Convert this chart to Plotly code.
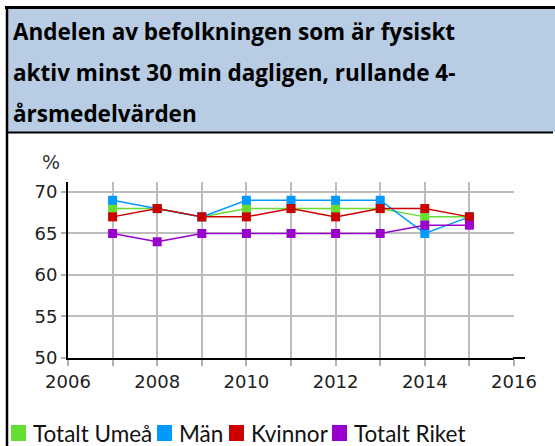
import plotly.graph_objects as go

years = [2007, 2008, 2009, 2010, 2011, 2012, 2013, 2014, 2015]
series_names = ["Totalt Umeå", "Män", "Kvinnor", "Totalt Riket"]
totalt_umea = [68, 68, 67, 68, 68, 68, 68, 67, 67]
man = [69, 68, 67, 69, 69, 69, 69, 65, 67]
kvinnor = [67, 68, 67, 67, 68, 67, 68, 68, 67]
totalt_riket = [65, 64, 65, 65, 65, 65, 65, 66, 66]
colors = ["#66dd33", "#0099ff", "#cc0000", "#9900cc"]
title_lines = ["Andelen av befolkningen som är fysiskt",
               "aktiv minst 30 min dagligen, rullande 4-",
               "årsmedelvärden"]
x_ticks = list(range(2006, 2017))
x_ticktext = [str(y) if y % 2 == 0 else "" for y in x_ticks]
y_ticks = [50, 55, 60, 65, 70]

W, H = 555, 446
L, R, T, B = 68, 514, 182, 358  # plot area pixels


def px(x):
    return (x - L) / (R - L)


def py(y):
    return (B - y) / (B - T)


fig = go.Figure()
for name, vals, c in zip(series_names, [totalt_umea, man, kvinnor, totalt_riket], colors):
    fig.add_trace(go.Scatter(x=years, y=vals, mode="lines+markers", name=name,
                             line=dict(color=c, width=1.5),
                             marker=dict(symbol="square", size=9, color=c),
                             showlegend=False))

shapes = []
ann = []
# title box
shapes.append(dict(type="rect", xref="paper", yref="paper", x0=px(7), x1=px(556), y0=py(7), y1=py(132),
                   fillcolor="#b8cce4", line=dict(width=0), layer="below"))
shapes.append(dict(type="line", xref="paper", yref="paper", x0=px(5), x1=px(556), y0=py(7.5), y1=py(7.5),
                   line=dict(color="black", width=3)))
shapes.append(dict(type="line", xref="paper", yref="paper", x0=px(7), x1=px(7), y0=py(6), y1=py(447),
                   line=dict(color="black", width=2.5)))
shapes.append(dict(type="line", xref="paper", yref="paper", x0=px(6), x1=px(553), y0=py(132.5), y1=py(132.5),
                   line=dict(color="black", width=2)))
# x-axis extension
shapes.append(dict(type="line", xref="paper", yref="paper", x0=px(513), x1=px(525), y0=py(358), y1=py(358),
                   line=dict(color="black", width=2)))

for i, t in enumerate(title_lines):
    ann.append(dict(text=t, xref="paper", yref="paper", x=px(11), y=py(31 + 41 * i),
                    xanchor="left", yanchor="middle", showarrow=False,
                    font=dict(family="Open Sans", size=22.5, color="black", weight="bold")))

ann.append(dict(text="%", xref="paper", yref="paper", x=px(51), y=py(162), xanchor="center", yanchor="middle",
                showarrow=False, font=dict(family="DejaVu Sans", size=19, color="#333")))

leg_sq = [11, 157, 229, 332]
for name, c, x0 in zip(series_names, colors, leg_sq):
    shapes.append(dict(type="rect", xref="paper", yref="paper", x0=px(x0), x1=px(x0 + 15),
                       y0=py(425), y1=py(441), fillcolor=c, line=dict(width=0)))
    ann.append(dict(text=name, xref="paper", yref="paper", x=px(x0 + 20), y=py(433),
                    xanchor="left", yanchor="middle", showarrow=False,
                    font=dict(family="Lato", size=22.5, color="#111")))

fig.update_layout(
    width=W, height=H, margin=dict(l=L, r=W - R, t=T, b=H - B),
    paper_bgcolor="white", plot_bgcolor="white",
    shapes=shapes, annotations=ann, showlegend=False,
    xaxis=dict(range=[2006, 2016], tickvals=x_ticks, ticktext=x_ticktext,
               showgrid=True, gridcolor="#bdbdbd", gridwidth=1.5,
               showline=True, linecolor="black", linewidth=2,
               ticks="outside", ticklen=6, tickcolor="#b0b0b0", tickwidth=1.5,
               tickfont=dict(family="DejaVu Sans", size=18, color="#222"), zeroline=False),
    yaxis=dict(range=[50, 71.2], tickvals=y_ticks,
               showgrid=True, gridcolor="#bdbdbd", gridwidth=1.5,
               showline=True, linecolor="black", linewidth=2,
               ticks="outside", ticklen=5, tickcolor="#b0b0b0", tickwidth=1.5,
               tickfont=dict(family="DejaVu Sans", size=18, color="#222"), zeroline=False),
)
fig.write_html("out.html", config={"displayModeBar": False},
               post_script="document.body.style.margin='0';document.body.style.overflow='hidden';")
